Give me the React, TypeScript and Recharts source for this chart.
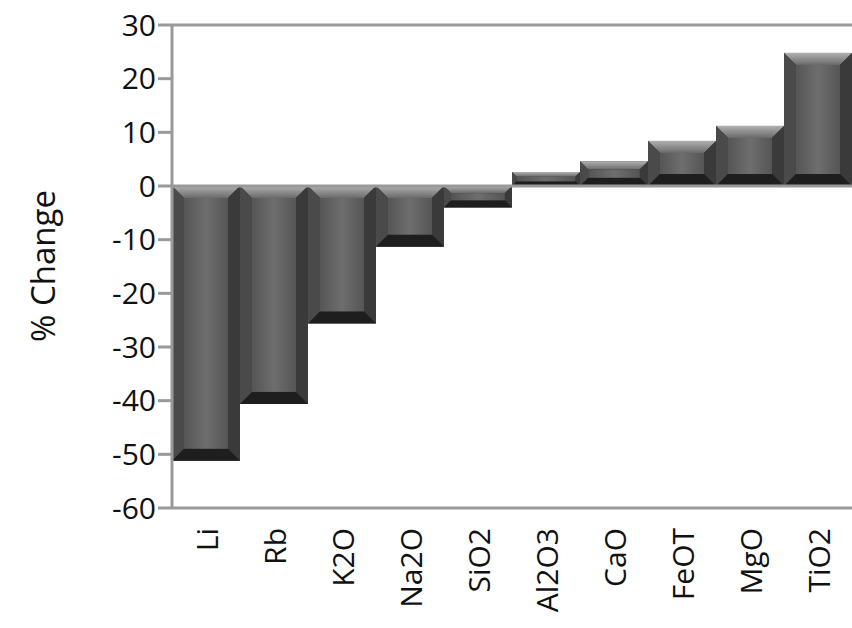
import React from 'react';
import { BarChart, Bar, XAxis, YAxis, ReferenceLine, Label } from 'recharts';

const categories = ['Li', 'Rb', 'K2O', 'Na2O', 'SiO2', 'Al2O3', 'CaO', 'FeOT', 'MgO', 'TiO2'];
const changes = [-51.2, -40.6, -25.6, -11.3, -4.0, 2.6, 4.6, 8.4, 11.2, 24.8];
const yTicks = [-60, -50, -40, -30, -20, -10, 0, 10, 20, 30];

const data = categories.map((c, i) => ({ name: c, v: changes[i] }));
const FONT = "'Open Sans', sans-serif";

const BevelBar = (props: any) => {
  const { x, y, width, height } = props;
  const h = Math.abs(height);
  const top = height < 0 ? y + height : y;
  const b = Math.min(12, h / 3, width / 4);
  const x1 = x, x2 = x + width, y1 = top, y2 = top + h;
  return (
    <g>
      <rect x={x1} y={y1} width={width} height={h} fill="#2e2e2e" />
      <polygon points={`${x1},${y1} ${x2},${y1} ${x2 - b},${y1 + b} ${x1 + b},${y1 + b}`} fill="url(#topG)" />
      <polygon points={`${x1},${y1} ${x1 + b},${y1 + b} ${x1 + b},${y2 - b} ${x1},${y2}`} fill="#4a4a4a" />
      <polygon points={`${x2},${y1} ${x2 - b},${y1 + b} ${x2 - b},${y2 - b} ${x2},${y2}`} fill="#3a3a3a" />
      <polygon points={`${x1},${y2} ${x1 + b},${y2 - b} ${x2 - b},${y2 - b} ${x2},${y2}`} fill="#1e1e1e" />
      <rect x={x1 + b} y={y1 + b} width={Math.max(0, width - 2 * b)} height={Math.max(0, h - 2 * b)} fill="url(#faceG)" />
    </g>
  );
};

const XTick = (props: any) => {
  const { x, y, payload } = props;
  return (
    <text x={x} y={y + 12} transform={`rotate(-90 ${x} ${y + 12})`} textAnchor="end" dominantBaseline="central"
      fontSize={30} fill="#111" fontFamily={FONT}>{payload.value}</text>
  );
};

const YLabel = () => (
  <text x={42} y={266} transform="rotate(-90 42 266)" textAnchor="middle" dominantBaseline="central"
    fontSize={33} fill="#111" fontFamily={FONT}>% Change</text>
);

export default function App() {
  return (
    <div style={{ position: 'absolute', left: 0, top: 0 }}>
      <BarChart width={852} height={628} data={data} margin={{ top: 25, right: 0, bottom: 0, left: 0 }} barCategoryGap={0}>
        <defs>
          <linearGradient id="topG" x1="0" y1="0" x2="0" y2="1">
            <stop offset="0" stopColor="#b0b0b0" />
            <stop offset="1" stopColor="#6a6a6a" />
          </linearGradient>
          <linearGradient id="faceG" x1="0" y1="0" x2="1" y2="0">
            <stop offset="0" stopColor="#555" />
            <stop offset="0.5" stopColor="#6e6e6e" />
            <stop offset="1" stopColor="#555" />
          </linearGradient>
        </defs>
        <XAxis dataKey="name" tick={<XTick />} tickLine={false} axisLine={{ stroke: '#999', strokeWidth: 3 }} height={120} interval={0} />
        <YAxis domain={[-60, 30]} ticks={yTicks} width={172} tickSize={14} tickLine={{ stroke: '#999', strokeWidth: 3 }}
          axisLine={{ stroke: '#999', strokeWidth: 3 }} tick={{ fontSize: 30, fill: '#111', fontFamily: FONT }} interval={0}>
          <Label content={<YLabel />} />
        </YAxis>
        <ReferenceLine y={30} stroke="#999" strokeWidth={3} />
        <Bar dataKey="v" shape={<BevelBar />} isAnimationActive={false} />
        <ReferenceLine y={0} stroke="#999" strokeWidth={3} />
      </BarChart>
    </div>
  );
}
